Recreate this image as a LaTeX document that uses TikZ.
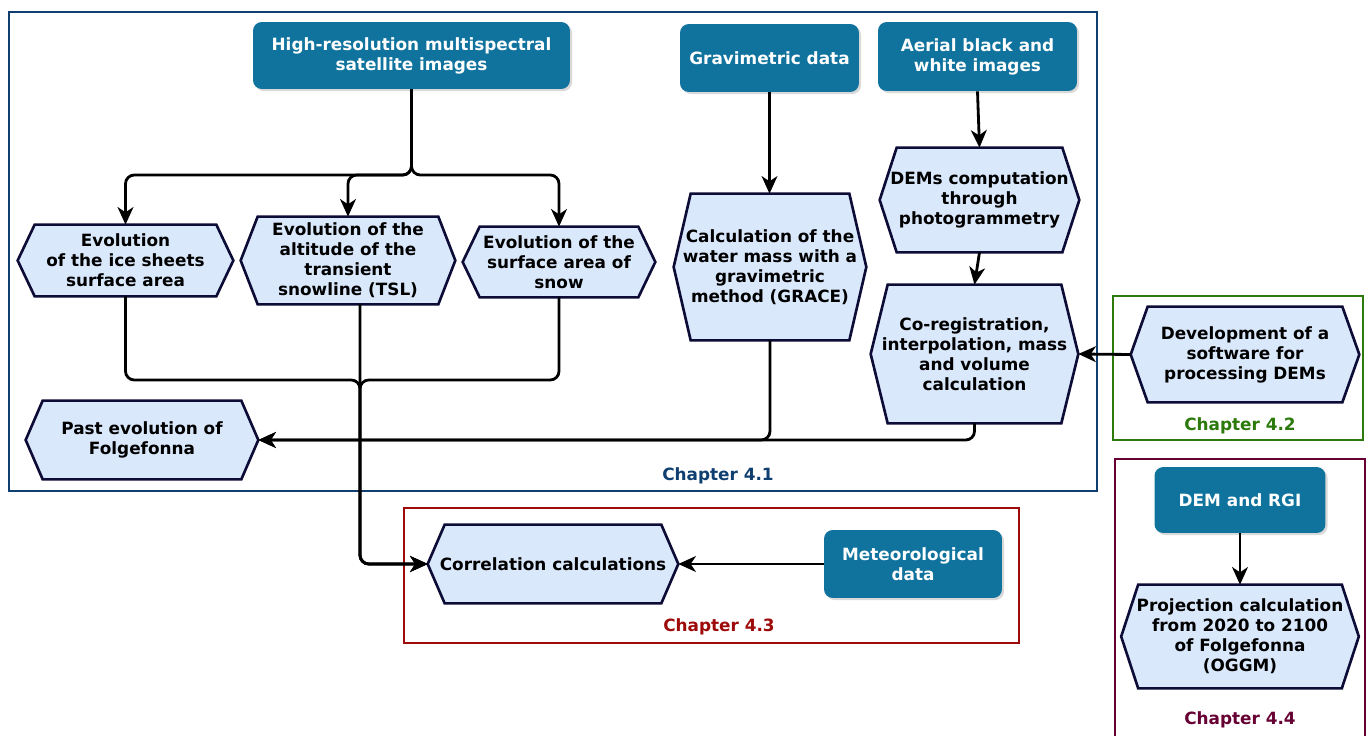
\documentclass[tikz,border=0pt]{standalone}
\usepackage{fontspec}
\setmainfont{DejaVu Sans}
\usetikzlibrary{positioning,arrows.meta,shadows,backgrounds}

\definecolor{darkbox}{HTML}{10739E}
\definecolor{hexfill}{HTML}{DAE8FC}
\definecolor{hexdraw}{HTML}{0C0C36}
\definecolor{chapblue}{HTML}{0F3F70}
\definecolor{chapgreen}{HTML}{2B7A0B}
\definecolor{chapred}{HTML}{9E0A0A}
\definecolor{chappurple}{HTML}{660033}

\tikzset{
  datbox/.style={rounded corners=5pt, fill=darkbox, text=white, align=center, inner sep=0pt,
    drop shadow={shadow xshift=1.2pt, shadow yshift=-1.2pt, opacity=0.3}},
  hexbox/.style={inner sep=0pt, align=center},
  hexshape/.style={draw=hexdraw, fill=hexfill, line width=1.5pt},
  flow/.style={-{Stealth[length=10pt,width=9pt,inset=3pt]}, line width=1.6pt, rounded corners=5pt},
  chapframe/.style={line width=1.1pt, inner sep=0pt},
}

\begin{document}
\begin{tikzpicture}[x=0.02cm, y=-0.02cm, every node/.style={font=\fontsize{9.6}{11.4}\selectfont\bfseries}]
  \useasboundingbox (0,0) rectangle (1370,736);

  % chapter frames
  \node[chapframe, draw=chapblue, minimum width=21.76cm, minimum height=9.58cm] (ch41) at (553,251.5) {};
  \node[chapframe, draw=chapgreen, minimum width=5.0cm, minimum height=2.88cm] (ch42) at (1238,368) {};
  \node[chapframe, draw=chapred, minimum width=12.3cm, minimum height=2.7cm] (ch43) at (711.5,575.5) {};
  \draw[line width=1.1pt, chappurple] (1115,738) |- (1365,459) -- (1365,738);

  \node[text=chapblue] (lab41) at (718,476) {Chapter 4.1};
  \node[text=chapgreen] (lab42) at (1240,426) {Chapter 4.2};
  \node[text=chapred] (lab43) at (719,627) {Chapter 4.3};
  \node[text=chappurple] (lab44) at (1240,720) {Chapter 4.4};

  % data sources
  \node[datbox, minimum width=6.34cm, minimum height=1.34cm] (satimg) at (411.5,55.5) {High-resolution multispectral\\satellite images};
  \node[datbox, minimum width=3.58cm, minimum height=1.36cm] (gravdata) at (769.5,58) {Gravimetric data};
  \node[datbox, minimum width=3.98cm, minimum height=1.38cm] (aerial) at (977.5,56.5) {Aerial black and\\white images};
  \node[datbox, minimum width=3.56cm, minimum height=1.36cm] (meteo) at (913,564) {Meteorological\\data};
  \node[datbox, minimum width=3.42cm, minimum height=1.32cm] (demrgi) at (1240,500) {DEM and RGI};

  % processing steps
  \node[hexbox, minimum width=4.3cm, minimum height=1.42cm] (ice) at (125.5,260.5) {Evolution\\of the ice sheets\\surface area};
  \node[hexbox, minimum width=4.28cm, minimum height=1.74cm] (tsl) at (348,260.5) {Evolution of the\\altitude of the\\transient\\snowline (TSL)};
  \node[hexbox, minimum width=3.84cm, minimum height=1.4cm] (snow) at (559,262) {Evolution of the\\surface area of\\snow};
  \node[hexbox, minimum width=3.84cm, minimum height=2.92cm] (grace) at (770,267) {Calculation of the\\water mass with a\\gravimetric\\method (GRACE)};
  \node[hexbox, minimum width=3.98cm, minimum height=2.08cm] (dems) at (979.5,200) {DEMs computation\\through\\photogrammetry};
  \node[hexbox, minimum width=4.14cm, minimum height=2.76cm] (coreg) at (974.5,354) {Co-registration,\\interpolation, mass\\and volume\\calculation};
  \node[hexbox, minimum width=4.56cm, minimum height=1.9cm] (devsoft) at (1245,354.5) {Development of a\\software for\\processing DEMs};
  \node[hexbox, minimum width=4.64cm, minimum height=1.56cm] (past) at (142,440) {Past evolution of\\Folgefonna};
  \node[hexbox, minimum width=5.0cm, minimum height=1.56cm] (corr) at (553,564) {Correlation calculations};
  \node[hexbox, minimum width=4.74cm, minimum height=2.06cm] (proj) at (1240,636.5) {Projection calculation\\from 2020 to 2100\\of Folgefonna\\(OGGM)};

  \begin{scope}[on background layer]
    \foreach \n in {ice,tsl,snow,grace,dems,coreg,devsoft,past,corr,proj}
      \draw[hexshape] ([xshift=0.34cm]\n.north west) -- ([xshift=-0.34cm]\n.north east) -- (\n.east)
        -- ([xshift=-0.34cm]\n.south east) -- ([xshift=0.34cm]\n.south west) -- (\n.west) -- cycle;
  \end{scope}

  % connectors
  \coordinate (split) at (411.5,175);
  \coordinate (merge) at (360,380);
  \draw[flow] (satimg.south) -- (split) -| (ice.north);
  \draw[flow] (satimg.south) -- (split) -| (tsl.north);
  \draw[flow] (satimg.south) -- (split) -| (snow.north);
  \draw[flow] (ice.south) |- (merge) |- (corr.west);
  \draw[flow] (snow.south) |- (merge) |- (corr.west);
  \draw[flow] (tsl.south -| merge) |- (corr.west);
  \draw[flow] (gravdata.south) -- (gravdata.south |- grace.north);
  \draw[flow] (grace.south) |- (past.east);
  \draw[flow] (coreg.south) |- (past.east);
  \draw[flow] (aerial.south) -- (dems.north);
  \draw[flow] (dems.south) -- (coreg.north);
  \draw[flow] (devsoft.west) -- (coreg.east);
  \draw[flow] (meteo.west) -- (corr.east);
  \draw[flow] (demrgi.south) -- (proj.north);
\end{tikzpicture}
\end{document}
